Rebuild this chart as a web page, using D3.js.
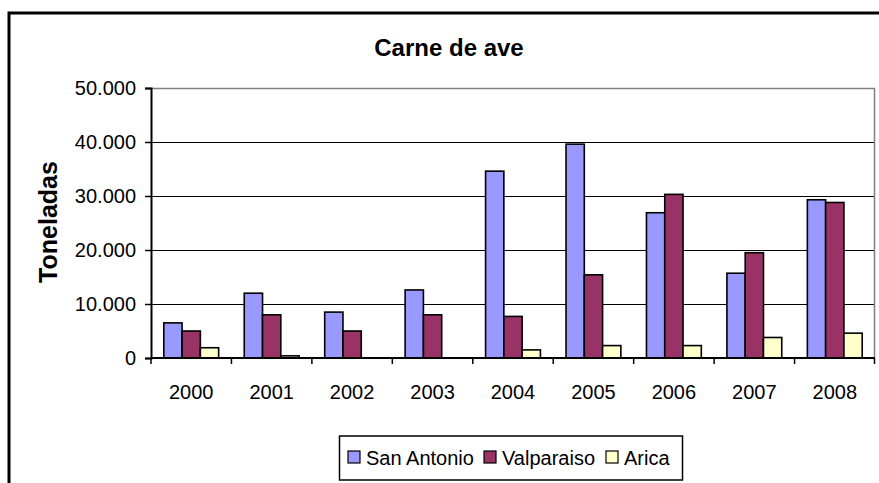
<!DOCTYPE html>
<html>
<head>
<meta charset="utf-8">
<script src="https://cdn.jsdelivr.net/npm/d3@7"></script>
<style>
  body { margin: 0; background: #fff; }
  text { font-family: Arial, "Liberation Sans", sans-serif; fill: #000; }
</style>
</head>
<body>
<div id="vis"></div>
<script>
// Data
const YEARS = ["2000", "2001", "2002", "2003", "2004", "2005", "2006", "2007", "2008"];
const SAN_ANTONIO = [6500, 12000, 8500, 12600, 34600, 39600, 26900, 15700, 29300];
const VALPARAISO = [5000, 8000, 5000, 8000, 7700, 15400, 30300, 19500, 28800];
const ARICA = [1900, 400, 0, 0, 1500, 2300, 2300, 3800, 4600];
const SERIES_NAMES = ["San Antonio", "Valparaiso", "Arica"];
const COLORS = ["#9999FF", "#993366", "#FFFFCC"];
const Y_TICKS = [0, 10000, 20000, 30000, 40000, 50000];

// Frame constants
const FRAME_WIDTH = 879;
const FRAME_HEIGHT = 483;
const MARGINS = {left: 151, right: 4, top: 88, bottom: 125};
const VIS_WIDTH = FRAME_WIDTH - MARGINS.left - MARGINS.right;
const VIS_HEIGHT = FRAME_HEIGHT - MARGINS.top - MARGINS.bottom;

const FRAME = d3.select("#vis")
  .append("svg")
    .attr("width", FRAME_WIDTH)
    .attr("height", FRAME_HEIGHT);

// outer chart border (only top and left visible)
FRAME.append("path")
  .attr("d", "M9,483 L9,13 L879,13")
  .attr("fill", "none")
  .attr("stroke", "#000")
  .attr("stroke-width", 3);

// scales
const X_SCALE = d3.scaleBand()
  .domain(YEARS)
  .range([0, VIS_WIDTH]);

const X_INNER = d3.scaleBand()
  .domain(SERIES_NAMES)
  .range([0, X_SCALE.bandwidth()])
  .paddingOuter(0.7)
  .paddingInner(0);

const Y_SCALE = d3.scaleLinear()
  .domain([0, 50000])
  .range([VIS_HEIGHT, 0]);

const G = FRAME.append("g")
  .attr("transform", "translate(" + MARGINS.left + "," + MARGINS.top + ")");

// gridlines
G.selectAll(".grid")
  .data(Y_TICKS.filter((d) => d > 0 && d < 50000))
  .enter()
  .append("line")
    .attr("x1", 0)
    .attr("x2", VIS_WIDTH)
    .attr("y1", (d) => Y_SCALE(d) + 0.5)
    .attr("y2", (d) => Y_SCALE(d) + 0.5)
    .attr("stroke", "#000")
    .attr("stroke-width", 1);

// plot area border top/right (grey)
G.append("path")
  .attr("d", "M0," + (Y_SCALE(50000) + 0.5) + " L" + (VIS_WIDTH - 0.5) + "," + (Y_SCALE(50000) + 0.5) +
             " L" + (VIS_WIDTH - 0.5) + "," + VIS_HEIGHT)
  .attr("fill", "none")
  .attr("stroke", "#808080")
  .attr("stroke-width", 1.5);

// bars
const DATA = YEARS.map((y, i) => ({
  year: y,
  values: [SAN_ANTONIO[i], VALPARAISO[i], ARICA[i]]
}));

const groups = G.selectAll(".year")
  .data(DATA)
  .enter()
  .append("g")
    .attr("transform", (d) => "translate(" + X_SCALE(d.year) + ",0)");

groups.selectAll("rect")
  .data((d) => d.values.map((v, j) => ({name: SERIES_NAMES[j], value: v, color: COLORS[j]})))
  .enter()
  .filter((d) => d.value > 0)
  .append("rect")
    .attr("x", (d) => X_INNER(d.name))
    .attr("y", (d) => Y_SCALE(d.value))
    .attr("width", X_INNER.bandwidth())
    .attr("height", (d) => VIS_HEIGHT - Y_SCALE(d.value))
    .attr("fill", (d) => d.color)
    .attr("stroke", "#000")
    .attr("stroke-width", 1.6);

// y axis
const yAxis = G.append("g")
  .call(d3.axisLeft(Y_SCALE)
    .tickValues(Y_TICKS)
    .tickSize(6)
    .tickPadding(9)
    .tickFormat((d) => d3.format(",")(d).replace(/,/g, ".")));
yAxis.select(".domain").attr("stroke", "#000").attr("stroke-width", 2);
yAxis.selectAll(".tick line").attr("stroke-width", 1.5);
yAxis.selectAll("text")
  .attr("font-size", "20px")
  .attr("font-family", "Arial, 'Liberation Sans', sans-serif")
  .attr("fill", "#000");

// x axis with ticks between categories
const xAxis = G.append("g")
  .attr("transform", "translate(0," + VIS_HEIGHT + ")");
xAxis.append("line")
  .attr("x1", 0).attr("x2", VIS_WIDTH)
  .attr("y1", 0).attr("y2", 0)
  .attr("stroke", "#000").attr("stroke-width", 2);
xAxis.selectAll(".xtick")
  .data(YEARS.concat(["end"]))
  .enter()
  .append("line")
    .attr("x1", (d, i) => i < YEARS.length ? X_SCALE(d) : VIS_WIDTH - 0.5)
    .attr("x2", (d, i) => i < YEARS.length ? X_SCALE(d) : VIS_WIDTH - 0.5)
    .attr("y1", 0).attr("y2", 6)
    .attr("stroke", "#000").attr("stroke-width", 1.5);
xAxis.selectAll(".xlabel")
  .data(YEARS)
  .enter()
  .append("text")
    .attr("x", (d) => X_SCALE(d) + X_SCALE.bandwidth() / 2)
    .attr("y", 41)
    .attr("text-anchor", "middle")
    .attr("font-size", "20px")
    .text((d) => d);

// title
FRAME.append("text")
  .attr("x", 449)
  .attr("y", 56)
  .attr("text-anchor", "middle")
  .attr("font-size", "24px")
  .attr("font-weight", "bold")
  .text("Carne de ave");

// y axis label
FRAME.append("text")
  .attr("transform", "translate(57,222) rotate(-90)")
  .attr("text-anchor", "middle")
  .attr("font-size", "25px")
  .attr("font-weight", "bold")
  .text("Toneladas");

// legend
const LEGEND = FRAME.append("g");
LEGEND.append("rect")
  .attr("x", 339.5).attr("y", 436)
  .attr("width", 343).attr("height", 44)
  .attr("fill", "#fff")
  .attr("stroke", "#000")
  .attr("stroke-width", 1.5);

const LEGEND_X = [348, 484, 606];
const items = LEGEND.selectAll(".item")
  .data(SERIES_NAMES)
  .enter()
  .append("g")
    .attr("transform", (d, i) => "translate(" + LEGEND_X[i] + ",0)");
items.append("rect")
  .attr("x", 0).attr("y", 451)
  .attr("width", 12).attr("height", 12)
  .attr("fill", (d, i) => COLORS[i])
  .attr("stroke", "#000")
  .attr("stroke-width", 1.2);
items.append("text")
  .attr("x", 18).attr("y", 465)
  .attr("font-size", "20px")
  .text((d) => d);
</script>
</body>
</html>
